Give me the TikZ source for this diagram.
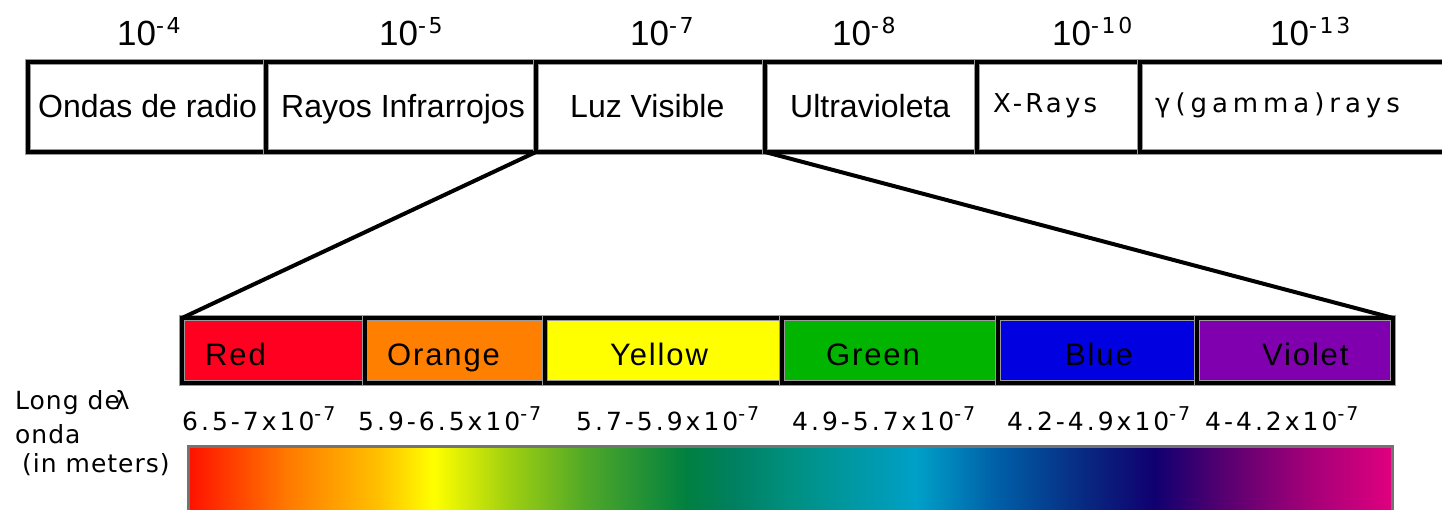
\documentclass[tikz,border=0pt]{standalone}
\usepackage{fontspec}
\setmainfont{Liberation Sans}
\newfontfamily\dv{DejaVu Sans}
\definecolor{cred}{HTML}{FF0020}
\definecolor{corange}{HTML}{FF8000}
\definecolor{cyellow}{HTML}{FFFF00}
\definecolor{cgreen}{HTML}{00B400}
\definecolor{cblue}{HTML}{0000E0}
\definecolor{cviolet}{HTML}{8000B0}
\definecolor{sa}{HTML}{FF1000}
\definecolor{sb}{HTML}{FF7A00}
\definecolor{sc}{HTML}{FFC000}
\definecolor{sd}{HTML}{FFFF00}
\definecolor{se}{HTML}{A0D010}
\definecolor{sf}{HTML}{50A828}
\definecolor{sg}{HTML}{008040}
\definecolor{sh}{HTML}{008060}
\definecolor{si}{HTML}{009080}
\definecolor{sj}{HTML}{00A0C8}
\definecolor{sk}{HTML}{0060A8}
\definecolor{sl}{HTML}{082880}
\definecolor{sm}{HTML}{100070}
\definecolor{sn}{HTML}{500070}
\definecolor{so}{HTML}{A00078}
\definecolor{sp}{HTML}{E0007F}
\pgfdeclarehorizontalshading{spectrum}{100bp}{color(0bp)=(sa); color(25bp)=(sa); color(29.15bp)=(sb); color(32.9bp)=(sc); color(35.2bp)=(sd); color(38.3bp)=(se); color(41.5bp)=(sf); color(45.7bp)=(sg); color(47.65bp)=(sh); color(50bp)=(si); color(55.25bp)=(sj); color(58.5bp)=(sk); color(62.3bp)=(sl); color(65.1bp)=(sm); color(67.75bp)=(sn); color(71.35bp)=(so); color(75bp)=(sp); color(100bp)=(sp)}
\newcommand\supx[1]{\raisebox{12pt}{\dv\fontsize{22}{22}\selectfont\addfontfeature{LetterSpace=12}#1}}
\newcommand\wsup[1]{\raisebox{10pt}{\dv\fontsize{19}{19}\selectfont\addfontfeature{LetterSpace=10}#1}}
\begin{document}
\begin{tikzpicture}[x=1pt,y=-1pt,
  band/.style={rectangle, inner sep=0pt, outer sep=0pt, anchor=north west,
    preaction={draw=black!40, line width=6.5pt, fill=#1}, draw=black, line width=3.5pt},
  band/.default=white,
  boxtxt/.style={anchor=base west, inner sep=0pt, font=\fontsize{32}{32}\selectfont},
  smalltxt/.style={anchor=base west, inner sep=0pt, font=\dv\fontsize{26}{26}\selectfont\addfontfeature{LetterSpace=#1}},
  colortxt/.style={anchor=base west, inner sep=0pt, font=\fontsize{31}{31}\selectfont\addfontfeature{LetterSpace=6}},
  exptxt/.style={anchor=base west, inner sep=0pt, font=\fontsize{35}{35}\selectfont},
  wavetxt/.style={anchor=base west, inner sep=0pt, font=\dv\fontsize{25}{25}\selectfont\addfontfeature{LetterSpace=12}},
  sidetxt/.style={anchor=base west, inner sep=0pt, font=\dv\fontsize{25}{25}\selectfont\addfontfeature{LetterSpace=4}},
  zoomline/.style={draw=black, line width=4pt, line cap=round}]
\useasboundingbox (0,0) rectangle (1442,510);
\fill[white] (0,0) rectangle (1442,510);

% exponent labels
\node[exptxt] (e4) at (117,46) {10\supx{-4}};
\node[exptxt] (e5) at (379,46) {10\supx{-5}};
\node[exptxt] (e7) at (630,46) {10\supx{-7}};
\node[exptxt] (e8) at (832,46) {10\supx{-8}};
\node[exptxt] (e10) at (1052,46) {10\supx{-10}};
\node[exptxt] (e13) at (1270,46) {10\supx{-13}};

% top bands
\node[band, minimum width=238pt, minimum height=90pt] (radio) at (28,62) {};
\node[band, minimum width=270pt, minimum height=90pt] (ir) at (266,62) {};
\node[band, minimum width=229pt, minimum height=90pt] (vis) at (536,62) {};
\node[band, minimum width=212pt, minimum height=90pt] (uv) at (765,62) {};
\node[band, minimum width=163pt, minimum height=90pt] (xr) at (977,62) {};
\node[band, minimum width=330pt, minimum height=90pt] (gam) at (1140,62) {};

\node[boxtxt] (tradio) at (38,118) {Ondas de radio};
\node[boxtxt] (tir) at (281,118) {Rayos Infrarrojos};
\node[boxtxt] (tvis) at (570,118) {Luz Visible};
\node[boxtxt] (tuv) at (790,118) {Ultravioleta};
\node[smalltxt=12] (txr) at (993,113) {X-Rays};
\node[smalltxt=19] (tgam) at (1155,113) {γ(gamma)rays};

% colour bands
\node[band=cred, minimum width=183pt, minimum height=65pt] (red) at (182,318) {};
\node[band=corange, minimum width=180pt, minimum height=65pt] (orange) at (365,318) {};
\node[band=cyellow, minimum width=237pt, minimum height=65pt] (yellow) at (545,318) {};
\node[band=cgreen, minimum width=216pt, minimum height=65pt] (green) at (782,318) {};
\node[band=cblue, minimum width=199pt, minimum height=65pt] (blue) at (998,318) {};
\node[band=cviolet, minimum width=196pt, minimum height=65pt] (violet) at (1197,318) {};

\node[colortxt] (tred) at (205,365) {Red};
\node[colortxt] (torange) at (387,365) {Orange};
\node[colortxt] (tyellow) at (610,365) {Yellow};
\node[colortxt] (tgreen) at (826,365) {Green};
\node[colortxt] (tblue) at (1065,365) {Blue};
\node[colortxt] (tviolet) at (1262,365) {Violet};

% zoom lines
\draw[zoomline] (vis.south west) -- (red.north west);
\draw[zoomline] (vis.south east) -- (violet.north east);

% side label
\node[sidetxt] (long) at (15,409) {Long de\kern-5pt λ};
\node[sidetxt] (onda) at (15,443) {onda};
\node[sidetxt] (meters) at (22,472) {(in meters)};

% wavelengths
\node[wavetxt] (w1) at (182,430) {6.5-7x10\wsup{-7}};
\node[wavetxt] (w2) at (358,430) {5.9-6.5x10\wsup{-7}};
\node[wavetxt] (w3) at (576,430) {5.7-5.9x10\wsup{-7}};
\node[wavetxt] (w4) at (792,430) {4.9-5.7x10\wsup{-7}};
\node[wavetxt] (w5) at (1007,430) {4.2-4.9x10\wsup{-7}};
\node[wavetxt] (w6) at (1205,430) {4-4.2x10\wsup{-7}};

% spectrum
\node[rectangle, anchor=north west, inner sep=0pt, outer sep=0pt, minimum width=1204pt, minimum height=80pt,
  shading=spectrum, draw=black!55, line width=3pt] (spec) at (188,446) {};
\end{tikzpicture}
\end{document}
